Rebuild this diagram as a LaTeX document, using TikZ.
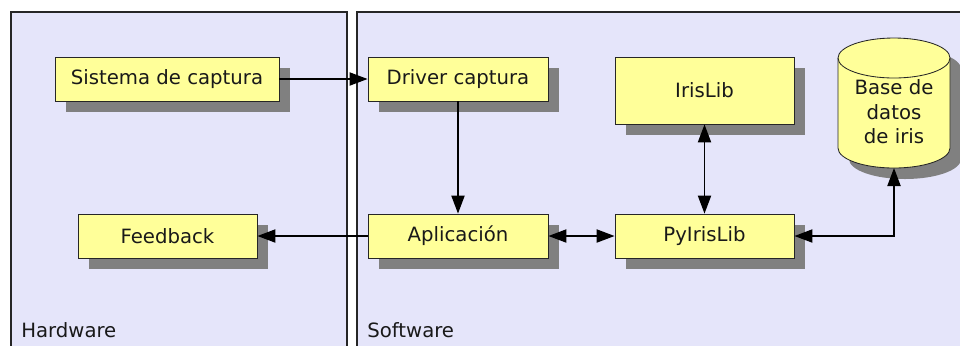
\documentclass[tikz,border=0pt]{standalone}
\usepackage{fontspec}
\setmainfont{DejaVu Sans}
\usetikzlibrary{arrows.meta,shadows}
\definecolor{fondo}{RGB}{229,229,250}
\definecolor{caja}{RGB}{255,255,153}
\begin{document}
\begin{tikzpicture}[x=0.025cm, y=-0.025cm,
  every node/.style={font=\fontsize{14}{17.5}\selectfont, text=black!90},
  panel/.style={draw=black!85, line width=0.9pt, fill=fondo},
  bloque/.style={draw=black!85, line width=0.6pt, fill=caja, minimum height=1.1cm,
    drop shadow={shadow xshift=0.27cm, shadow yshift=-0.27cm, fill=black!50, opacity=1}},
  flecha/.style={line width=1pt, -{Triangle[length=0.45cm, width=0.33cm]}},
  dflecha/.style={line width=1pt, {Triangle[length=0.45cm, width=0.33cm]}-{Triangle[length=0.45cm, width=0.33cm]}}]
	\useasboundingbox (0,0) rectangle (960,345);
	\clip (0,0) rectangle (960,345);
	\fill[white] (0,0) rectangle (960,345);
	% paneles
	\draw[panel] (11,12) rectangle (347,360);
	\draw[panel] (357,12) rectangle (980,360);
	\node[anchor=base west, inner sep=0pt] (hw) at (21,337) {Hardware};
	\node[anchor=base west, inner sep=0pt] (sw) at (367,337) {Software};
	% bloques
	\node[bloque, minimum width=5.6cm] (sistema) at (167,79) {Sistema de captura};
	\node[bloque, minimum width=4.475cm] (feedback) at (167.5,236) {Feedback};
	\node[bloque, minimum width=4.5cm] (driver) at (458,79) {Driver captura};
	\node[bloque, minimum width=4.5cm] (aplicacion) at (458,236) {Aplicación};
	\node[bloque, minimum width=4.475cm, minimum height=1.675cm] (irislib) at (704.5,90.5) {IrisLib};
	\node[bloque, minimum width=4.475cm] (pyirislib) at (704.5,236) {PyIrisLib};
	% base de datos (cilindro)
	\fill[black!50, shift={(11,11)}] (838,58) -- (838,148) arc (180:0:56 and 20) -- (950,58) arc (0:-180:56 and 20) -- cycle;
	\filldraw[draw=black!85, line width=0.6pt, fill=caja] (838,58) -- (838,148) arc (180:0:56 and 20) -- (950,58) arc (0:-180:56 and 20) -- cycle;
	\draw[black!85, line width=0.6pt] (838,58) arc (180:0:56 and 20);
	\coordinate (bdpie) at (894,168);
	\node[align=center] (bd) at (894,112) {Base de\\datos\\de iris};
	% conexiones
	\draw[flecha] (sistema) -- (driver);
	\draw[flecha] (driver) -- (aplicacion);
	\draw[flecha] (aplicacion) -- (feedback);
	\draw[dflecha] (aplicacion) -- (pyirislib);
	\draw[dflecha] (irislib) -- (pyirislib);
	\draw[dflecha] (pyirislib.east) -| (bdpie);
\end{tikzpicture}
\end{document}
